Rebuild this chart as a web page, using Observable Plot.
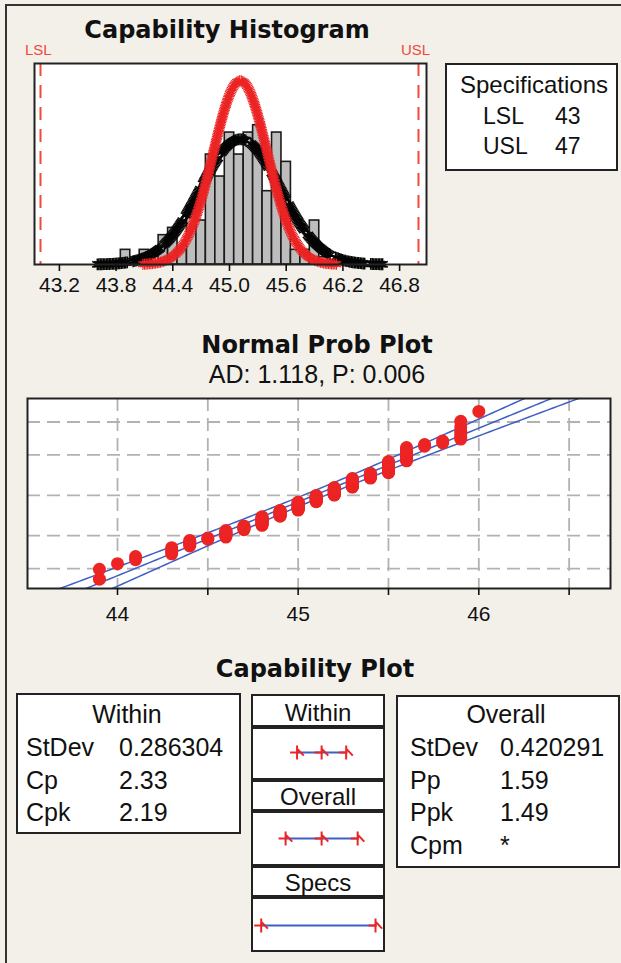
<!DOCTYPE html>
<html><head><meta charset="utf-8">
<script src="https://cdn.jsdelivr.net/npm/d3@7"></script>
<script src="https://cdn.jsdelivr.net/npm/@observablehq/plot@0.6"></script>
<style>
html,body{margin:0;padding:0;background:#f3f0ea;}
#page{position:relative;width:621px;height:963px;overflow:hidden;background:#f3f0ea;color:#111;font-family:"Liberation Sans",Arial,sans-serif;}
.t{position:absolute;line-height:1;white-space:nowrap;}
.box{position:absolute;box-sizing:border-box;border:2px solid #222;background:#fff;}
.abs{position:absolute;}
.abs svg{display:block;}
</style></head><body><div id="page"></div>
<script>
// ---------------- data ----------------
const LSL = 43, USL = 47;
const values = [43.9,44.0,44.1,44.2,44.3,44.4,44.5,44.6,44.7,44.8,44.9,45.0,45.1,45.2,45.3,45.4,45.5,45.6,45.7,45.8,45.9,46.0];
const counts = [2,1,2,0,4,5,2,8,6,15,12,18,15,18,19,10,18,14,2,2,6,1];
const binWidth = 0.1;
const sdWithin = 0.286304, sdOverall = 0.420291;
const probFitMean = 45.09, probFitSd = 0.427;   // fitted line
const histTicks = [43.2,43.8,44.4,45.0,45.6,46.2,46.8];
const probTicks = [44,44.5,45,45.5,46,46.5];
const probGridPct = [1,10,50,90,99];
const specRows = [["LSL","43"],["USL","47"]];
const withinRows = [["StDev","0.286304"],["Cp","2.33"],["Cpk","2.19"]];
const overallRows = [["StDev","0.420291"],["Pp","1.59"],["Ppk","1.49"],["Cpm","*"]];
const adText = "AD: 1.118, P: 0.006";

// ---------------- helpers ----------------
const page = document.getElementById("page");
const RED = "#ec2424", RED2 = "#ef4a3a", BLUE = "#3f5fc4";
function txt(s, x, base, size, opt = {}) {
  const d = document.createElement("div");
  d.className = "t"; d.textContent = s;
  d.style.fontSize = size + "px";
  d.style.top = (base - 0.846 * size) + "px";
  d.style.left = x + "px";
  if (opt.bold) { d.style.fontFamily = '"DejaVu Sans", Verdana, sans-serif'; d.style.fontWeight = "bold"; }
  if (opt.color) d.style.color = opt.color;
  if (opt.anchor === "middle") d.style.transform = "translateX(-50%)";
  page.appendChild(d);
}
function box(x, y, w, h) {
  const d = document.createElement("div");
  d.className = "box";
  Object.assign(d.style, {left: x + "px", top: y + "px", width: w + "px", height: h + "px"});
  page.appendChild(d);
}
function place(node, x, y) {
  const d = document.createElement("div");
  d.className = "abs"; d.style.left = x + "px"; d.style.top = y + "px";
  d.appendChild(node); page.appendChild(d);
}
function qnorm(p){
  const a=[-3.969683028665376e+01,2.209460984245205e+02,-2.759285104469687e+02,1.383577518672690e+02,-3.066479806614716e+01,2.506628277459239e+00];
  const b=[-5.447609879822406e+01,1.615858368580409e+02,-1.556989798598866e+02,6.680131188771972e+01,-1.328068155288572e+01];
  const c=[-7.784894002430293e-03,-3.223964580411365e-01,-2.400758277161838e+00,-2.549732539343734e+00,4.374664141464968e+00,2.938163982698783e+00];
  const d=[7.784695709041462e-03,3.224671290700398e-01,2.445134137142996e+00,3.754408661907416e+00];
  const pl=0.02425, ph=1-pl; let q, r;
  if (p < pl) { q=Math.sqrt(-2*Math.log(p)); return (((((c[0]*q+c[1])*q+c[2])*q+c[3])*q+c[4])*q+c[5])/((((d[0]*q+d[1])*q+d[2])*q+d[3])*q+1); }
  if (p <= ph) { q=p-0.5; r=q*q; return (((((a[0]*r+a[1])*r+a[2])*r+a[3])*r+a[4])*r+a[5])*q/(((((b[0]*r+b[1])*r+b[2])*r+b[3])*r+b[4])*r+1); }
  q=Math.sqrt(-2*Math.log(1-p)); return -(((((c[0]*q+c[1])*q+c[2])*q+c[3])*q+c[4])*q+c[5])/((((d[0]*q+d[1])*q+d[2])*q+d[3])*q+1);
}

// derived from the data
const N = d3.sum(counts);
const mean = d3.sum(values, (v, i) => v * counts[i]) / N;
const bars = values.map((v, i) => ({v, c: counts[i]})).filter(d => d.c > 0);
// fitted normal density (count scale), sampled evenly along the drawn path for star markers
function curve(sd, spacing, dashPx, onFrac) {
  const pts = [];
  const lo = mean - 3.6 * sd, hi = mean + 3.6 * sd;
  let len = 0, prev = null, next = 0;
  for (let x = lo; x <= hi; x += 0.0005) {
    const z = (x - mean) / sd;
    const y = N * binWidth * Math.exp(-0.5 * z * z) / (sd * Math.sqrt(2 * Math.PI));
    const px = x * 94.5, py = y * 7.33;
    if (prev) len += Math.hypot(px - prev[0], py - prev[1]);
    prev = [px, py];
    if (len >= next) {
      next += spacing;
      if (!dashPx || (len % dashPx) < dashPx * onFrac) pts.push({x, y});
    }
  }
  return pts;
}
const blackPts = curve(sdOverall, 1.5, 36, 0.84);
const redPts = curve(sdWithin, 1.6, 0, 1);

// ---------------- frame lines ----------------
const lineTop = document.createElement("div");
Object.assign(lineTop.style, {position:"absolute", left:"5px", top:"4px", width:"616px", height:"2px", background:"#333"});
page.appendChild(lineTop);
const lineLeft = document.createElement("div");
Object.assign(lineLeft.style, {position:"absolute", left:"5px", top:"4px", width:"2px", height:"959px", background:"#333"});
page.appendChild(lineLeft);

// ---------------- histogram ----------------
txt("Capability Histogram", 227, 38, 24, {bold: true, anchor: "middle"});
txt("LSL", 25, 55, 15, {color: RED2});
txt("USL", 401, 55, 15, {color: RED2});

const hist = Plot.plot({
  width: 440, height: 300,
  marginLeft: 34, marginRight: 14, marginTop: 63, marginBottom: 36,
  x: {domain: [42.9365, 47.0847]},
  y: {domain: [0, 27.42], axis: null},
  style: {background: "transparent", fontFamily: '"Liberation Sans", Arial, sans-serif', fontSize: "21px", color: "#111", overflow: "visible"},
  marks: [
    Plot.frame({fill: "white"}),
    Plot.rect(bars, {x1: d => d.v - binWidth / 2, x2: d => d.v + binWidth / 2, y1: 0, y2: "c", fill: "#bdbdbd", stroke: "#1b1b1b", strokeWidth: 1.6}),
    Plot.dot(blackPts, {x: "x", y: "y", symbol: "asterisk", r: 5.6, stroke: "#050505", strokeWidth: 1.5}),
    Plot.dot(redPts, {x: "x", y: "y", symbol: "asterisk", r: 5.2, stroke: RED, strokeWidth: 1.2}),
    Plot.ruleX([LSL, USL], {stroke: RED2, strokeWidth: 2, strokeDasharray: "13,9"}),
    Plot.frame({stroke: "#222", strokeWidth: 2}),
    Plot.axisX(histTicks, {label: null, tickSize: 7, tickPadding: 6, tickFormat: d3.format(".1f"), strokeWidth: 1.6})
  ]
});
place(hist, 0, 0);

// specifications box
box(445, 63, 173, 108);
txt("Specifications", 534, 93, 24, {anchor: "middle"});
specRows.forEach((r, i) => {
  txt(r[0], 483, 124 + i * 30, 23);
  txt(r[1], 555, 124 + i * 30, 23);
});

// ---------------- normal probability plot ----------------
txt("Normal Prob Plot", 317, 353, 24, {bold: true, anchor: "middle"});
txt(adText, 317, 383, 25, {anchor: "middle"});

const obs = [];
values.forEach((v, i) => { for (let k = 0; k < counts[i]; k++) obs.push(v); });
const probPts = obs.map((v, i) => ({x: v, z: qnorm((i + 1 - 0.3) / (N + 0.4))}));
const zDomain = [-2.959, 3.073];
const fitLines = [];
for (let j = 0; j <= 80; j++) {
  const z = zDomain[0] + (zDomain[1] - zDomain[0]) * j / 80;
  const hw = 1.96 * probFitSd * Math.sqrt(1 / N + z * z / (2 * (N - 1)));
  const c = probFitMean + probFitSd * z;
  fitLines.push({z, x: c - hw, k: "lo"}, {z, x: c, k: "mid"}, {z, x: c + hw, k: "hi"});
}
const gridZ = probGridPct.map(p => qnorm(p / 100));

const prob = Plot.plot({
  width: 621, height: 250,
  marginLeft: 27, marginRight: 11, marginTop: 18, marginBottom: 42,
  x: {domain: [43.5018, 46.729]},
  y: {domain: zDomain, axis: null},
  style: {background: "transparent", fontFamily: '"Liberation Sans", Arial, sans-serif', fontSize: "21px", color: "#111", overflow: "visible"},
  marks: [
    Plot.frame({fill: "white"}),
    Plot.ruleY(gridZ, {stroke: "#b2b2b2", strokeWidth: 1.8, strokeDasharray: "13,7"}),
    Plot.ruleX(probTicks, {stroke: "#b2b2b2", strokeWidth: 1.8, strokeDasharray: "13,7"}),
    Plot.line(fitLines, {x: "x", y: "z", z: "k", stroke: BLUE, strokeWidth: 1.6, clip: true}),
    Plot.dot(probPts, {x: "x", y: "z", r: 6.5, fill: RED}),
    Plot.frame({stroke: "#222", strokeWidth: 2}),
    Plot.axisX(probTicks, {label: null, tickSize: 7, tickPadding: 11, strokeWidth: 1.6, tickFormat: d => Number.isInteger(d) ? String(d) : ""})
  ]
});
place(prob, 0, 380);

// ---------------- capability plot ----------------
txt("Capability Plot", 315, 677, 24, {bold: true, anchor: "middle"});

box(16, 693, 225, 141);
txt("Within", 127, 723, 25, {anchor: "middle"});
withinRows.forEach((r, i) => { txt(r[0], 26, 756 + i * 32.8, 25); txt(r[1], 119, 756 + i * 32.8, 25); });

box(396, 695, 224, 173);
txt("Overall", 506, 723, 25, {anchor: "middle"});
overallRows.forEach((r, i) => { txt(r[0], 410, 756 + i * 32.7, 25); txt(r[1], 500, 756 + i * 32.7, 25); });

// center column
const colX = 251, colW = 134;
box(colX, 694, colW, 33); txt("Within", colX + colW / 2, 721, 24, {anchor: "middle"});
box(colX, 727, colW, 53);
box(colX, 780, colW, 31); txt("Overall", colX + colW / 2, 805, 24, {anchor: "middle"});
box(colX, 811, colW, 55);
box(colX, 866, colW, 31); txt("Specs", colX + colW / 2, 891, 24, {anchor: "middle"});
box(colX, 897, colW, 55);

const tickSym = {
  draw(ctx, size) {
    const r = Math.sqrt(size / Math.PI);
    ctx.moveTo(0, -r); ctx.lineTo(0, r);
    ctx.moveTo(-r, 0); ctx.lineTo(r * 0.2, 0);
    ctx.moveTo(0, -r * 0.55); ctx.lineTo(r * 0.95, r * 0.45);
  }
};
const glyphDomain = [LSL - (260.7 - colX) / 28.575, USL + (colX + colW - 375) / 28.575];
function glyph(lo, hi, pts) {
  return Plot.plot({
    width: colW, height: 20, margin: 0,
    x: {domain: glyphDomain, axis: null},
    y: {domain: [0, 1], axis: null},
    style: {background: "transparent", overflow: "visible"},
    marks: [
      Plot.ruleY([0.5], {x1: lo, x2: hi, stroke: BLUE, strokeWidth: 2.2}),
      Plot.dot(pts, {x: d => d, y: () => 0.5, symbol: tickSym, r: 7, stroke: RED, strokeWidth: 2})
    ]
  });
}
const wLo = mean - 3 * sdWithin, wHi = mean + 3 * sdWithin;
const oLo = mean - 3 * sdOverall, oHi = mean + 3 * sdOverall;
place(glyph(wLo, wHi, [wLo, mean, wHi]), colX, 742);
place(glyph(oLo, oHi, [oLo, mean, oHi]), colX, 828);
place(glyph(LSL, USL, [LSL, USL]), colX, 915);
</script></body></html>
